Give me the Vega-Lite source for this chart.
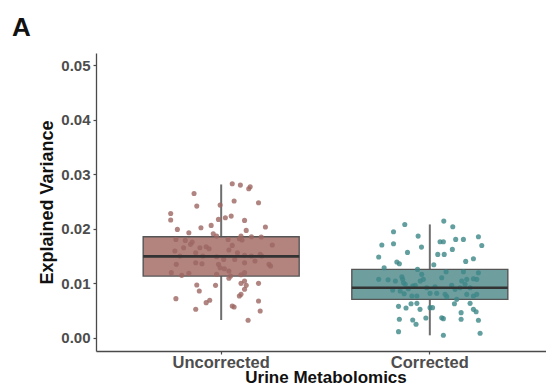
{
  "$schema": "https://vega.github.io/schema/vega-lite/v6.json",
  "autosize": {"type": "none"},
  "width": 450,
  "height": 298,
  "padding": {"left": 96, "top": 53, "right": 0, "bottom": 36},
  "background": "#ffffff",
  "title": {"text": "A", "anchor": "start", "frame": "group", "dx": -84, "dy": 25, "offset": 16, "baseline": "alphabetic", "fontSize": 26, "fontWeight": "bold", "font": "Liberation Sans", "color": "#111111"},
  "config": {
    "view": {"stroke": null},
    "font": "Liberation Sans",
    "axis": {"grid": false, "domainColor": "#4a4a4a", "domainWidth": 1.3, "tickColor": "#4a4a4a", "tickWidth": 1.2, "tickSize": 3, "labelFont": "Liberation Sans", "labelFontWeight": "bold", "labelColor": "#4d4d4d", "labelFontSize": 15, "titleFont": "Liberation Sans", "titleFontWeight": "bold", "titleColor": "#111111"}
  },
  "datasets": {
    "boxes": [
      {"group": "Uncorrected", "lower": 0.00323, "q1": 0.0113, "median": 0.01492, "q3": 0.01853, "upper": 0.02813},
      {"group": "Corrected", "lower": 0.00042, "q1": 0.00703, "median": 0.00917, "q3": 0.01253, "upper": 0.02079}
    ],
    "points": [
      {"group": "Uncorrected", "value": 0.02648, "jitter": -0.130},
      {"group": "Uncorrected", "value": 0.02826, "jitter": 0.053},
      {"group": "Uncorrected", "value": 0.02801, "jitter": 0.092},
      {"group": "Uncorrected", "value": 0.02734, "jitter": 0.132},
      {"group": "Uncorrected", "value": 0.02771, "jitter": 0.139},
      {"group": "Uncorrected", "value": 0.02416, "jitter": -0.117},
      {"group": "Uncorrected", "value": 0.02508, "jitter": 0.062},
      {"group": "Uncorrected", "value": 0.02477, "jitter": 0.179},
      {"group": "Uncorrected", "value": 0.02434, "jitter": -0.005},
      {"group": "Uncorrected", "value": 0.02281, "jitter": -0.242},
      {"group": "Uncorrected", "value": 0.02159, "jitter": -0.242},
      {"group": "Uncorrected", "value": 0.02171, "jitter": -0.013},
      {"group": "Uncorrected", "value": 0.02202, "jitter": 0.020},
      {"group": "Uncorrected", "value": 0.02232, "jitter": 0.048},
      {"group": "Uncorrected", "value": 0.02153, "jitter": 0.112},
      {"group": "Uncorrected", "value": 0.02018, "jitter": -0.097},
      {"group": "Uncorrected", "value": 0.02061, "jitter": -0.048},
      {"group": "Uncorrected", "value": 0.01988, "jitter": -0.210},
      {"group": "Uncorrected", "value": 0.01927, "jitter": -0.155},
      {"group": "Uncorrected", "value": 0.01969, "jitter": 0.120},
      {"group": "Uncorrected", "value": 0.02031, "jitter": 0.212},
      {"group": "Uncorrected", "value": 0.01908, "jitter": -0.038},
      {"group": "Uncorrected", "value": 0.01853, "jitter": 0.145},
      {"group": "Uncorrected", "value": 0.01847, "jitter": 0.192},
      {"group": "Uncorrected", "value": 0.01865, "jitter": 0.095},
      {"group": "Uncorrected", "value": 0.01817, "jitter": 0.087},
      {"group": "Uncorrected", "value": 0.01804, "jitter": -0.217},
      {"group": "Uncorrected", "value": 0.01786, "jitter": -0.172},
      {"group": "Uncorrected", "value": 0.01755, "jitter": -0.139},
      {"group": "Uncorrected", "value": 0.01713, "jitter": -0.147},
      {"group": "Uncorrected", "value": 0.01651, "jitter": -0.102},
      {"group": "Uncorrected", "value": 0.01670, "jitter": -0.072},
      {"group": "Uncorrected", "value": 0.01633, "jitter": -0.058},
      {"group": "Uncorrected", "value": 0.01865, "jitter": -0.022},
      {"group": "Uncorrected", "value": 0.01804, "jitter": 0.033},
      {"group": "Uncorrected", "value": 0.01792, "jitter": 0.100},
      {"group": "Uncorrected", "value": 0.01700, "jitter": 0.245},
      {"group": "Uncorrected", "value": 0.01694, "jitter": 0.053},
      {"group": "Uncorrected", "value": 0.01651, "jitter": -0.180},
      {"group": "Uncorrected", "value": 0.01590, "jitter": -0.222},
      {"group": "Uncorrected", "value": 0.01560, "jitter": -0.122},
      {"group": "Uncorrected", "value": 0.01498, "jitter": -0.088},
      {"group": "Uncorrected", "value": 0.01486, "jitter": -0.022},
      {"group": "Uncorrected", "value": 0.01609, "jitter": 0.037},
      {"group": "Uncorrected", "value": 0.01560, "jitter": 0.078},
      {"group": "Uncorrected", "value": 0.01511, "jitter": 0.112},
      {"group": "Uncorrected", "value": 0.01498, "jitter": 0.145},
      {"group": "Uncorrected", "value": 0.01529, "jitter": 0.187},
      {"group": "Uncorrected", "value": 0.01498, "jitter": 0.195},
      {"group": "Uncorrected", "value": 0.01498, "jitter": -0.197},
      {"group": "Uncorrected", "value": 0.01376, "jitter": -0.122},
      {"group": "Uncorrected", "value": 0.01358, "jitter": -0.092},
      {"group": "Uncorrected", "value": 0.01437, "jitter": 0.012},
      {"group": "Uncorrected", "value": 0.01346, "jitter": -0.013},
      {"group": "Uncorrected", "value": 0.01437, "jitter": 0.065},
      {"group": "Uncorrected", "value": 0.01376, "jitter": 0.112},
      {"group": "Uncorrected", "value": 0.01407, "jitter": 0.162},
      {"group": "Uncorrected", "value": 0.01346, "jitter": 0.229},
      {"group": "Uncorrected", "value": 0.01315, "jitter": 0.237},
      {"group": "Uncorrected", "value": 0.01346, "jitter": -0.215},
      {"group": "Uncorrected", "value": 0.01284, "jitter": -0.005},
      {"group": "Uncorrected", "value": 0.01266, "jitter": 0.015},
      {"group": "Uncorrected", "value": 0.01223, "jitter": 0.037},
      {"group": "Uncorrected", "value": 0.01193, "jitter": -0.239},
      {"group": "Uncorrected", "value": 0.01144, "jitter": -0.189},
      {"group": "Uncorrected", "value": 0.01180, "jitter": -0.155},
      {"group": "Uncorrected", "value": 0.01162, "jitter": -0.022},
      {"group": "Uncorrected", "value": 0.01131, "jitter": 0.045},
      {"group": "Uncorrected", "value": 0.01193, "jitter": 0.112},
      {"group": "Uncorrected", "value": 0.01156, "jitter": 0.095},
      {"group": "Uncorrected", "value": 0.01089, "jitter": 0.037},
      {"group": "Uncorrected", "value": 0.00997, "jitter": 0.095},
      {"group": "Uncorrected", "value": 0.00960, "jitter": 0.120},
      {"group": "Uncorrected", "value": 0.01040, "jitter": 0.112},
      {"group": "Uncorrected", "value": 0.00997, "jitter": 0.179},
      {"group": "Uncorrected", "value": 0.00966, "jitter": -0.117},
      {"group": "Uncorrected", "value": 0.00960, "jitter": -0.027},
      {"group": "Uncorrected", "value": 0.00856, "jitter": -0.105},
      {"group": "Uncorrected", "value": 0.00887, "jitter": 0.112},
      {"group": "Uncorrected", "value": 0.00795, "jitter": 0.095},
      {"group": "Uncorrected", "value": 0.00765, "jitter": 0.087},
      {"group": "Uncorrected", "value": 0.00716, "jitter": -0.217},
      {"group": "Uncorrected", "value": 0.00685, "jitter": -0.055},
      {"group": "Uncorrected", "value": 0.00642, "jitter": -0.072},
      {"group": "Uncorrected", "value": 0.00673, "jitter": 0.179},
      {"group": "Uncorrected", "value": 0.00581, "jitter": 0.053},
      {"group": "Uncorrected", "value": 0.00563, "jitter": 0.062},
      {"group": "Uncorrected", "value": 0.00520, "jitter": -0.122},
      {"group": "Uncorrected", "value": 0.00489, "jitter": 0.187},
      {"group": "Uncorrected", "value": 0.00318, "jitter": 0.129},
      {"group": "Corrected", "value": 0.02079, "jitter": -0.120},
      {"group": "Corrected", "value": 0.02140, "jitter": 0.067},
      {"group": "Corrected", "value": 0.02036, "jitter": 0.110},
      {"group": "Corrected", "value": 0.01944, "jitter": -0.174},
      {"group": "Corrected", "value": 0.01865, "jitter": -0.056},
      {"group": "Corrected", "value": 0.01700, "jitter": -0.230},
      {"group": "Corrected", "value": 0.01724, "jitter": -0.174},
      {"group": "Corrected", "value": 0.01663, "jitter": -0.040},
      {"group": "Corrected", "value": 0.01761, "jitter": 0.049},
      {"group": "Corrected", "value": 0.01761, "jitter": 0.065},
      {"group": "Corrected", "value": 0.01804, "jitter": 0.124},
      {"group": "Corrected", "value": 0.01804, "jitter": 0.161},
      {"group": "Corrected", "value": 0.01852, "jitter": 0.233},
      {"group": "Corrected", "value": 0.01693, "jitter": 0.249},
      {"group": "Corrected", "value": 0.01565, "jitter": -0.107},
      {"group": "Corrected", "value": 0.01528, "jitter": 0.038},
      {"group": "Corrected", "value": 0.01528, "jitter": 0.069},
      {"group": "Corrected", "value": 0.01620, "jitter": 0.108},
      {"group": "Corrected", "value": 0.01480, "jitter": -0.245},
      {"group": "Corrected", "value": 0.01449, "jitter": 0.209},
      {"group": "Corrected", "value": 0.01400, "jitter": 0.172},
      {"group": "Corrected", "value": 0.01388, "jitter": -0.158},
      {"group": "Corrected", "value": 0.01357, "jitter": -0.146},
      {"group": "Corrected", "value": 0.01339, "jitter": 0.019},
      {"group": "Corrected", "value": 0.01284, "jitter": -0.219},
      {"group": "Corrected", "value": 0.01253, "jitter": -0.059},
      {"group": "Corrected", "value": 0.01211, "jitter": 0.078},
      {"group": "Corrected", "value": 0.01211, "jitter": 0.161},
      {"group": "Corrected", "value": 0.01192, "jitter": 0.233},
      {"group": "Corrected", "value": 0.01070, "jitter": -0.245},
      {"group": "Corrected", "value": 0.01064, "jitter": -0.200},
      {"group": "Corrected", "value": 0.01039, "jitter": -0.165},
      {"group": "Corrected", "value": 0.01119, "jitter": -0.134},
      {"group": "Corrected", "value": 0.01070, "jitter": -0.130},
      {"group": "Corrected", "value": 0.01009, "jitter": -0.126},
      {"group": "Corrected", "value": 0.01162, "jitter": -0.039},
      {"group": "Corrected", "value": 0.01070, "jitter": -0.031},
      {"group": "Corrected", "value": 0.01100, "jitter": 0.057},
      {"group": "Corrected", "value": 0.01070, "jitter": 0.177},
      {"group": "Corrected", "value": 0.01082, "jitter": 0.209},
      {"group": "Corrected", "value": 0.01070, "jitter": 0.225},
      {"group": "Corrected", "value": 0.00874, "jitter": -0.178},
      {"group": "Corrected", "value": 0.00856, "jitter": -0.142},
      {"group": "Corrected", "value": 0.00807, "jitter": -0.123},
      {"group": "Corrected", "value": 0.00948, "jitter": -0.082},
      {"group": "Corrected", "value": 0.00960, "jitter": -0.070},
      {"group": "Corrected", "value": 0.00764, "jitter": -0.086},
      {"group": "Corrected", "value": 0.00764, "jitter": -0.062},
      {"group": "Corrected", "value": 0.00813, "jitter": 0.001},
      {"group": "Corrected", "value": 0.00813, "jitter": 0.033},
      {"group": "Corrected", "value": 0.00752, "jitter": 0.081},
      {"group": "Corrected", "value": 0.00795, "jitter": 0.073},
      {"group": "Corrected", "value": 0.00886, "jitter": 0.121},
      {"group": "Corrected", "value": 0.00917, "jitter": 0.145},
      {"group": "Corrected", "value": 0.00978, "jitter": 0.169},
      {"group": "Corrected", "value": 0.00795, "jitter": 0.177},
      {"group": "Corrected", "value": 0.00764, "jitter": 0.209},
      {"group": "Corrected", "value": 0.00795, "jitter": 0.225},
      {"group": "Corrected", "value": 0.00703, "jitter": 0.129},
      {"group": "Corrected", "value": 0.00979, "jitter": -0.118},
      {"group": "Corrected", "value": 0.00917, "jitter": -0.015},
      {"group": "Corrected", "value": 0.00935, "jitter": 0.025},
      {"group": "Corrected", "value": 0.00960, "jitter": 0.105},
      {"group": "Corrected", "value": 0.01039, "jitter": -0.046},
      {"group": "Corrected", "value": 0.01039, "jitter": 0.153},
      {"group": "Corrected", "value": 0.00917, "jitter": 0.193},
      {"group": "Corrected", "value": 0.00899, "jitter": -0.103},
      {"group": "Corrected", "value": 0.00574, "jitter": -0.150},
      {"group": "Corrected", "value": 0.00544, "jitter": -0.114},
      {"group": "Corrected", "value": 0.00623, "jitter": -0.090},
      {"group": "Corrected", "value": 0.00629, "jitter": -0.062},
      {"group": "Corrected", "value": 0.00519, "jitter": -0.047},
      {"group": "Corrected", "value": 0.00550, "jitter": 0.001},
      {"group": "Corrected", "value": 0.00550, "jitter": 0.013},
      {"group": "Corrected", "value": 0.00623, "jitter": 0.118},
      {"group": "Corrected", "value": 0.00458, "jitter": 0.150},
      {"group": "Corrected", "value": 0.00629, "jitter": 0.193},
      {"group": "Corrected", "value": 0.00519, "jitter": 0.209},
      {"group": "Corrected", "value": 0.00476, "jitter": 0.222},
      {"group": "Corrected", "value": 0.00336, "jitter": -0.146},
      {"group": "Corrected", "value": 0.00324, "jitter": -0.082},
      {"group": "Corrected", "value": 0.00244, "jitter": -0.066},
      {"group": "Corrected", "value": 0.00360, "jitter": -0.019},
      {"group": "Corrected", "value": 0.00366, "jitter": 0.057},
      {"group": "Corrected", "value": 0.00348, "jitter": 0.065},
      {"group": "Corrected", "value": 0.00336, "jitter": 0.150},
      {"group": "Corrected", "value": 0.00318, "jitter": 0.233},
      {"group": "Corrected", "value": 0.00109, "jitter": -0.150},
      {"group": "Corrected", "value": 0.00042, "jitter": 0.065},
      {"group": "Corrected", "value": 0.00079, "jitter": 0.241}
    ]
  },
  "encoding": {
    "x": {"field": "group", "type": "nominal", "sort": ["Uncorrected", "Corrected"],
      "scale": {"domain": ["Uncorrected", "Corrected"], "range": [0, 459], "paddingInner": 0, "paddingOuter": 0.1},
      "axis": {"title": "Urine Metabolomics", "labelAngle": 0, "labelPadding": 0, "labelFontSize": 16.5, "titleFontSize": 17, "titlePadding": -1}}
  },
  "layer": [
    {
      "data": {"name": "boxes"},
      "mark": {"type": "rule", "color": "#6e6e6e", "strokeWidth": 2},
      "encoding": {
        "y": {"field": "lower", "type": "quantitative",
          "scale": {"domain": [-0.00246, 0.05228], "nice": false, "zero": false},
          "axis": {"title": "Explained Variance", "values": [0, 0.01, 0.02, 0.03, 0.04, 0.05], "format": ".2f", "labelPadding": 3, "titleFontSize": 18, "titlePadding": 4}},
        "y2": {"field": "upper"}
      }
    },
    {
      "data": {"name": "boxes"},
      "mark": {"type": "bar", "width": 156, "stroke": "#555555", "strokeWidth": 1.4},
      "encoding": {
        "y": {"field": "q1", "type": "quantitative"},
        "y2": {"field": "q3"},
        "fill": {"field": "group", "type": "nominal", "scale": {"domain": ["Uncorrected", "Corrected"], "range": ["#b3847e", "#6f9e9f"]}, "legend": null}
      }
    },
    {
      "data": {"name": "points"},
      "mark": {"type": "circle", "size": 26, "opacity": 0.8},
      "encoding": {
        "xOffset": {"field": "jitter", "type": "quantitative", "scale": {"domain": [-0.5, 0.5]}},
        "y": {"field": "value", "type": "quantitative"},
        "color": {"field": "group", "type": "nominal", "scale": {"domain": ["Uncorrected", "Corrected"], "range": ["#9c6661", "#3d8788"]}, "legend": null}
      }
    },
    {
      "data": {"name": "boxes"},
      "mark": {"type": "tick", "color": "#333333", "thickness": 2.6, "size": 156, "opacity": 1},
      "encoding": {
        "y": {"field": "median", "type": "quantitative"}
      }
    }
  ]
}
